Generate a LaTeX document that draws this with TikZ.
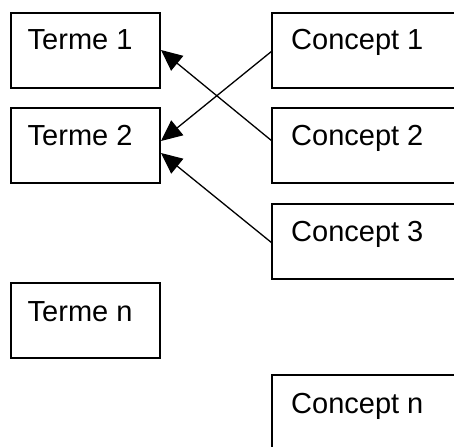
\documentclass[tikz,border=0pt]{standalone}
\usepackage{fontspec}
\setmainfont{Liberation Sans}
\usetikzlibrary{arrows.meta,calc}
\begin{document}
\begin{tikzpicture}[x=1pt,y=1pt,
  termbox/.style={draw=black,line width=1.3pt,minimum width=149pt,minimum height=75pt,anchor=north west,inner sep=0pt,outer sep=0pt},
  conceptbox/.style={draw=black,line width=1.3pt,minimum width=200pt,minimum height=75pt,anchor=north west,inner sep=0pt,outer sep=0pt},
  boxtext/.style={anchor=base west,inner sep=0pt,font=\fontsize{29}{32}\selectfont},
  link/.style={draw=black,line width=1.3pt,-{Triangle[length=21pt,width=19pt]}}]
\useasboundingbox (0,0) rectangle (454,-446);
\clip (0,0) rectangle (454,-446);
% term boxes
\node[termbox] (t1) at (11,-13) {};
\node[termbox] (t2) at (11,-108) {};
\node[termbox] (tn) at (11,-283) {};
% concept boxes
\node[conceptbox] (c1) at (272,-13) {};
\node[conceptbox] (c2) at (272,-108) {};
\node[conceptbox] (c3) at (272,-204) {};
\node[conceptbox] (cn) at (272,-375) {};
% texts
\node[boxtext] (t1l) at ($(t1.north west)+(16.5,-37)$) {Terme 1};
\node[boxtext] (t2l) at ($(t2.north west)+(16.5,-37.5)$) {Terme 2};
\node[boxtext] (tnl) at ($(tn.north west)+(16.5,-38)$) {Terme n};
\node[boxtext] (c1l) at ($(c1.north west)+(19,-36.5)$) {Concept 1};
\node[boxtext] (c2l) at ($(c2.north west)+(19,-37.5)$) {Concept 2};
\node[boxtext] (c3l) at ($(c3.north west)+(19,-37)$) {Concept 3};
\node[boxtext] (cnl) at ($(cn.north west)+(19,-38)$) {Concept n};
% connection points
\coordinate (c1o) at ($(c1.north west)+(0,-38)$);
\coordinate (c2o) at ($(c2.north west)+(0,-33)$);
\coordinate (c3o) at ($(c3.north west)+(0,-39)$);
\coordinate (t1i) at ($(t1.north east)+(1,-37)$);
\coordinate (t2a) at ($(t2.north east)+(1,-33)$);
\coordinate (t2b) at ($(t2.north east)+(1,-45)$);
% arrows
\draw[link] (c2o) -- (t1i);
\draw[link] (c1o) -- (t2a);
\draw[link] (c3o) -- (t2b);
\end{tikzpicture}
\end{document}
